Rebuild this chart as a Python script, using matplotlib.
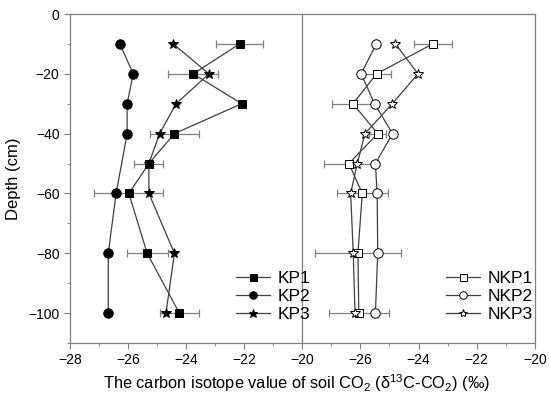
import numpy as np
import matplotlib.pyplot as plt
from matplotlib.ticker import MultipleLocator, FixedLocator

plt.rcParams['font.family'] = ['Liberation Sans', 'DejaVu Sans']
plt.rcParams['mathtext.default'] = 'regular'

# profundidades (cm)
depth = [-10, -20, -30, -40, -50, -60, -80, -100]

# parcela KP
kp1 = [-22.15, -23.75, -22.08, -24.40, -25.28, -25.97, -25.34, -24.23]
kp1_err = [0.8, 0.87, 0.0, 0.85, 0.5, 1.19, 0.71, 0.68]
kp2 = [-26.28, -25.82, -26.03, -26.03, None, -26.41, -26.68, -26.68]
kp3 = [-24.44, -23.21, -24.34, -24.91, -25.28, -25.28, -24.40, -24.69]

# parcela NKP
nkp1 = [-23.51, -25.44, -26.25, -25.40, -26.39, -25.93, -26.08, -26.05]
nkp1_err = [0.65, 0.5, 0.73, 0.3, 0.84, 0.88, 1.49, 1.02]
nkp2 = [-25.45, -25.97, -25.51, -24.89, -25.48, -25.42, -25.40, -25.48]
nkp3 = [-24.79, -24.02, -24.90, -25.84, -26.10, -26.33, -26.24, -26.18]

left_ticks = [-28, -26, -24, -22, -20]
right_ticks = [-26, -24, -22, -20]

gris = '#808080'
linea = '#404040'

fig = plt.figure(figsize=(5.5, 4), dpi=100)
ax1 = fig.add_axes([70 / 550, 1 - 343 / 400, 232 / 550, 329 / 400])
ax2 = fig.add_axes([302 / 550, 1 - 343 / 400, 233 / 550, 329 / 400])
ax2.patch.set_visible(False)


def serie(ax, x, marker, fill, label, ms, err=None):
    d = [dp for dp, v in zip(depth, x) if v is not None]
    v = [vv for vv in x if vv is not None]
    if err is not None:
        e = [ee for ee, vv in zip(err, x) if vv is not None]
        ax.errorbar(v, d, xerr=e, fmt='none', ecolor=gris, elinewidth=0.9,
                    capsize=3, capthick=0.9, zorder=1)
    ax.plot(v, d, color=linea, lw=0.9, marker=marker, ms=ms,
            mfc=fill, mec='black', mew=0.7, label=label, zorder=3)


serie(ax1, kp1, 's', 'black', 'KP1', 6.3, kp1_err)
serie(ax1, kp2, 'o', 'black', 'KP2', 6.8)
serie(ax1, kp3, '*', 'black', 'KP3', 7.8)

serie(ax2, nkp1, 's', 'white', 'NKP1', 6.3, nkp1_err)
serie(ax2, nkp2, 'o', 'white', 'NKP2', 6.8)
serie(ax2, nkp3, '*', 'white', 'NKP3', 7.5)

for ax in (ax1, ax2):
    ax.set_xlim(-28, -20)
    ax.set_ylim(-110, 0)
    for s in ax.spines.values():
        s.set_color(gris)
        s.set_linewidth(0.9)
    ax.xaxis.set_minor_locator(MultipleLocator(1))
    ax.tick_params(axis='both', which='both', direction='out', colors=gris,
                   labelcolor='black', labelsize=10)
    ax.tick_params(which='major', length=4)
    ax.tick_params(which='minor', length=2.5)
    ax.tick_params(top=False, right=False)

ax1.xaxis.set_major_locator(FixedLocator(left_ticks))
ax1.yaxis.set_minor_locator(MultipleLocator(10))
ax1.set_yticks([0, -20, -40, -60, -80, -100])
ax1.set_ylabel('Depth (cm)', fontsize=12, labelpad=5)

ax2.xaxis.set_major_locator(FixedLocator(right_ticks))
ax2.spines['left'].set_visible(False)
ax2.tick_params(axis='y', which='both', left=False, labelleft=False)

fig.text(296 / 550, 1 - 383 / 400,
         'The carbon isotope value of soil CO$_2$ ($\u03b4^{13}$C-CO$_2$) (\u2030)',
         ha='center', va='center', fontsize=11.8)

leg_kw = dict(frameon=False, fontsize=12.5, handlelength=2.0, handletextpad=0.4,
              borderpad=0, labelspacing=0.18, markerscale=0.8,
              bbox_transform=fig.transFigure, loc='upper left')
ax1.legend(bbox_to_anchor=(227 / 550, 1 - 262 / 400), **leg_kw)
ax2.legend(bbox_to_anchor=(437 / 550, 1 - 262 / 400), **leg_kw)

fig.savefig('out.png', dpi=100)
